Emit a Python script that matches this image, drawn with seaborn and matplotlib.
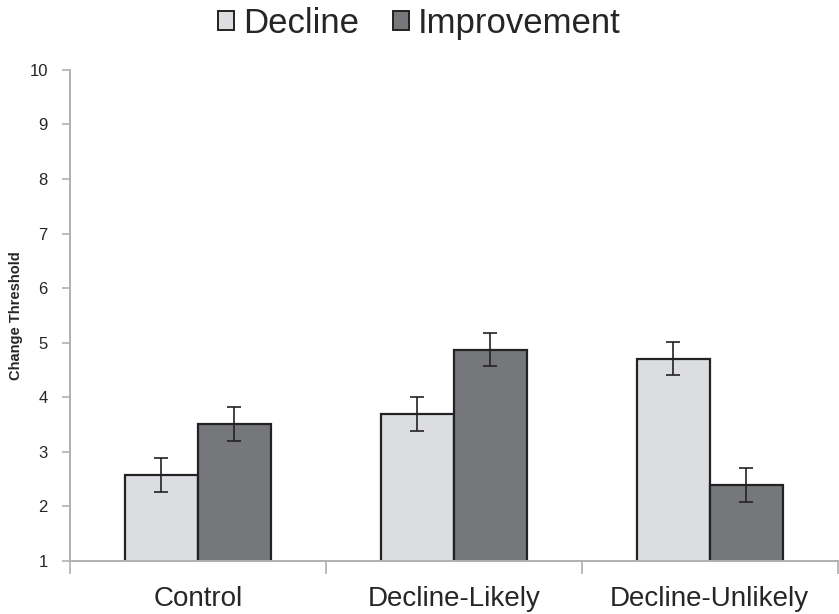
import pandas as pd
import numpy as np
import matplotlib
matplotlib.use('Agg')
import matplotlib.pyplot as plt
import seaborn as sns
from matplotlib.patches import Patch

# Data
conditions = ['Control', 'Decline-Likely', 'Decline-Unlikely']
decline = [2.58, 3.70, 4.71]
improvement = [3.51, 4.87, 2.40]
decline_err = [0.31, 0.31, 0.31]
improvement_err = [0.32, 0.30, 0.31]
series = ['Decline', 'Improvement']
colors = ['#dcdde0', '#76777b']

df = pd.DataFrame({
    'condition': conditions * 2,
    'threshold': decline + improvement,
    'type': ['Decline'] * 3 + ['Improvement'] * 3,
})
errs = {'Decline': decline_err, 'Improvement': improvement_err}

sns.set_style('white')
plt.rcParams['font.family'] = ['Liberation Sans', 'DejaVu Sans']

fig = plt.figure(figsize=(8.39, 6.14), dpi=100)
ax = fig.add_axes([0.0834, 0.0863, 0.915, 0.8])

sns.barplot(data=df, x='condition', y='threshold', hue='type',
            palette=colors, edgecolor='#222222', linewidth=1.6,
            width=0.57, errorbar=None, saturation=1, ax=ax, legend=False)

# error bars at the bar centres
for cont, name in zip(ax.containers, series):
    xs = [b.get_x() + b.get_width() / 2 for b in cont]
    ys = [b.get_height() for b in cont]
    ax.errorbar(xs, ys, yerr=errs[name], fmt='none', ecolor='#222222',
                elinewidth=1.2, capsize=5, capthick=1.2)

ax.set_ylim(1, 10)
ax.set_yticks(range(1, 11))
ax.set_xlim(-0.5, 2.5)

# boundary ticks on x, labels in the middle
ax.set_xticks([-0.5, 0.5, 1.5, 2.5])
ax.set_xticklabels([])
ax.set_xticks([0, 1, 2], minor=True)
ax.set_xticklabels(conditions, minor=True, fontsize=20)
ax.tick_params(axis='x', which='minor', length=0, pad=18)
ax.tick_params(axis='x', which='major', length=9, width=1.2, color='#b0b0b0',
               direction='out', bottom=True)
ax.tick_params(axis='y', length=6, width=1.2, color='#b0b0b0',
               direction='out', left=True, labelsize=12, pad=10)

for s in ['top', 'right']:
    ax.spines[s].set_visible(False)
for s in ['left', 'bottom']:
    ax.spines[s].set_color('#b0b0b0')
    ax.spines[s].set_linewidth(1.4)

ax.set_xlabel('')
ax.set_ylabel('Change Threshold', fontsize=10.5, fontweight='bold')
ax.yaxis.set_label_coords(-0.061, 0.5)

handles = [Patch(facecolor=c, edgecolor='#222222', linewidth=1.4, label=n)
           for c, n in zip(colors, series)]
fig.legend(handles=handles, loc='center', bbox_to_anchor=(0.5, 0.962), ncol=2,
           frameon=False, fontsize=25, handlelength=0.45, handleheight=0.45,
           handletextpad=0.25, columnspacing=1.0)

fig.savefig('out.png', dpi=100)
